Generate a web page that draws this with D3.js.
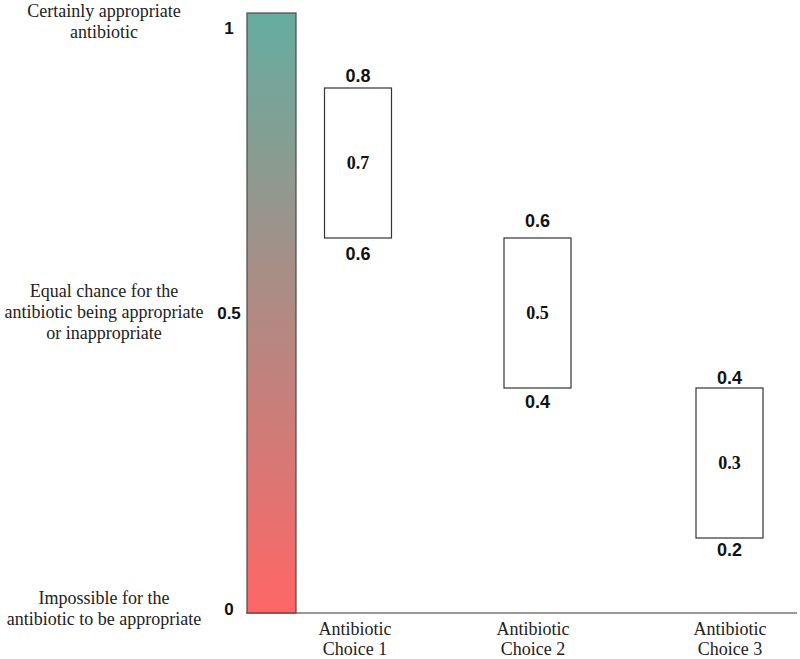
<!DOCTYPE html>
<html>
<head>
<meta charset="utf-8">
<script src="https://cdn.jsdelivr.net/npm/d3@7"></script>
<style>
  html, body { margin: 0; padding: 0; background: #fff; }
  svg { display: block; }
</style>
</head>
<body>
<svg id="chart" width="800" height="659"></svg>
<script>
// ---- data ----
const categories = ["Antibiotic Choice 1", "Antibiotic Choice 2", "Antibiotic Choice 3"];
const lowValues = [0.6, 0.4, 0.2];
const midValues = [0.7, 0.5, 0.3];
const highValues = [0.8, 0.6, 0.4];
const axisTicks = [0, 0.5, 1];
const axisTickLabels = ["0", "0.5", "1"];
const axisDescriptions = [
  ["Impossible for the", "antibiotic to be appropriate"],
  ["Equal chance for the", "antibiotic being appropriate", "or inappropriate"],
  ["Certainly appropriate", "antibiotic"]
];

const svg = d3.select("#chart");
const serif = "'Times New Roman', 'Liberation Serif', serif";
const sans = "Arial, 'Liberation Sans', sans-serif";

// scales
const yAxis = d3.scaleLinear().domain([0, 0.5, 1]).range([609, 313, 28]);
const yBox = d3.scaleLinear().domain([0.2, 0.8]).range([538, 88]);
const xCentres = [358, 537.5, 729.5];
const xLabelCentres = [355, 533, 730];
const boxW = 67;
const topLabelGap = [6, 11, 4];
const bottomLabelGap = [22, 20, 18];

// gradient
const defs = svg.append("defs");
const grad = defs.append("linearGradient").attr("id", "grad")
  .attr("x1", 0).attr("y1", 0).attr("x2", 0).attr("y2", 1);
grad.append("stop").attr("offset", "0%").attr("stop-color", "#64ada0");
grad.append("stop").attr("offset", "100%").attr("stop-color", "#ff6666");

// baseline
svg.append("line")
  .attr("x1", 246).attr("x2", 797)
  .attr("y1", 613).attr("y2", 613)
  .attr("stroke", "#777").attr("stroke-width", 1.5);

// gradient bar
svg.append("rect")
  .attr("x", 247).attr("y", yAxis(1) - 15)
  .attr("width", 49).attr("height", 613 - (yAxis(1) - 15))
  .attr("fill", "url(#grad)")
  .attr("stroke", "#4a4a4a").attr("stroke-width", 1.2);

// axis tick labels
svg.selectAll("text.tick").data(axisTicks).join("text")
  .attr("class", "tick")
  .attr("x", 229)
  .attr("y", d => yAxis(d))
  .attr("dy", "0.36em")
  .attr("text-anchor", "middle")
  .attr("font-family", sans).attr("font-weight", "bold").attr("font-size", 17)
  .attr("fill", "#111")
  .text((d, i) => axisTickLabels[i]);

// axis descriptions
axisDescriptions.forEach((lines, i) => {
  const v = axisTicks[i];
  const t = svg.append("text")
    .attr("x", 104)
    .attr("text-anchor", "middle")
    .attr("font-family", serif).attr("font-size", 18).attr("fill", "#222");
  const base = (v === 0.5) ? yAxis(v) - 16 : (v === 1 ? yAxis(v) - 11 : yAxis(v) - 5);
  lines.forEach((l, j) => {
    t.append("tspan").attr("x", 104).attr("y", base + j * 21).text(l);
  });
});

// boxes
const groups = svg.selectAll("g.box").data(categories).join("g").attr("class", "box");
groups.append("rect")
  .attr("x", (d, i) => xCentres[i] - boxW / 2)
  .attr("y", (d, i) => yBox(highValues[i]))
  .attr("width", boxW)
  .attr("height", (d, i) => yBox(lowValues[i]) - yBox(highValues[i]))
  .attr("fill", "#fff").attr("stroke", "#333").attr("stroke-width", 1.2);

groups.append("text")
  .attr("x", (d, i) => xCentres[i])
  .attr("y", (d, i) => yBox(highValues[i]) - topLabelGap[i])
  .attr("text-anchor", "middle")
  .attr("font-family", sans).attr("font-weight", "bold").attr("font-size", 18)
  .attr("fill", "#111")
  .text((d, i) => highValues[i]);

groups.append("text")
  .attr("x", (d, i) => xCentres[i])
  .attr("y", (d, i) => yBox(lowValues[i]) + bottomLabelGap[i])
  .attr("text-anchor", "middle")
  .attr("font-family", sans).attr("font-weight", "bold").attr("font-size", 18)
  .attr("fill", "#111")
  .text((d, i) => lowValues[i]);

groups.append("text")
  .attr("x", (d, i) => xCentres[i])
  .attr("y", (d, i) => yBox(midValues[i]) + 6)
  .attr("text-anchor", "middle")
  .attr("font-family", serif).attr("font-weight", "bold").attr("font-size", 18)
  .attr("fill", "#111")
  .text((d, i) => midValues[i]);

// category labels
categories.forEach((c, i) => {
  const words = c.split(" ");
  const t = svg.append("text")
    .attr("text-anchor", "middle")
    .attr("font-family", serif).attr("font-size", 18).attr("fill", "#222");
  t.append("tspan").attr("x", xLabelCentres[i]).attr("y", 635).text(words[0]);
  t.append("tspan").attr("x", xLabelCentres[i]).attr("y", 655).text(words.slice(1).join(" "));
});
</script>
</body>
</html>
